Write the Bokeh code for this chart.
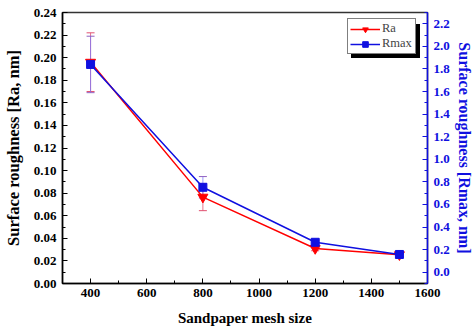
from bokeh.plotting import figure
from bokeh.models import (Range1d, LinearAxis, FixedTicker, NumeralTickFormatter,
                          ColumnDataSource, Whisker, Legend, LegendItem)
from bokeh.embed import file_html
from bokeh.resources import INLINE

mesh = [400, 800, 1200, 1500]
ra = [0.196, 0.0765, 0.031, 0.0255]
ra_err = [0.026, 0.012, 0.002, 0.002]
rmax = [1.84, 0.752, 0.265, 0.157]
rmax_err = [0.25, 0.095, 0.02, 0.02]

x_ticks = [400, 600, 800, 1000, 1200, 1400, 1600]
x_minor = [300, 500, 700, 900, 1100, 1300, 1500]
ra_ticks = [0.00, 0.02, 0.04, 0.06, 0.08, 0.10, 0.12, 0.14, 0.16, 0.18, 0.20, 0.22, 0.24]
ra_minor = [0.01, 0.03, 0.05, 0.07, 0.09, 0.11, 0.13, 0.15, 0.17, 0.19, 0.21, 0.23]
rmax_ticks = [0.0, 0.2, 0.4, 0.6, 0.8, 1.0, 1.2, 1.4, 1.6, 1.8, 2.0, 2.2]
rmax_minor = [-0.1, 0.1, 0.3, 0.5, 0.7, 0.9, 1.1, 1.3, 1.5, 1.7, 1.9, 2.1, 2.3]

FONT = "Liberation Serif"
BLUE = "#1010e0"
RED = "#ff0000"

p = figure(width=475, height=330, output_backend="svg", toolbar_location=None,
           x_range=Range1d(300, 1600), y_range=Range1d(0, 0.24),
           min_border_left=62, min_border_right=45, min_border_top=12, min_border_bottom=47)
p.extra_y_ranges = {"rmax": Range1d(-0.1, 2.3)}
p.grid.visible = False
p.outline_line_color = "#333333"
p.outline_line_width = 1.5

src = ColumnDataSource(dict(x=mesh, ra=ra, rmax=rmax,
                            ra_lo=[a - b for a, b in zip(ra, ra_err)],
                            ra_hi=[a + b for a, b in zip(ra, ra_err)],
                            rm_lo=[a - b for a, b in zip(rmax, rmax_err)],
                            rm_hi=[a + b for a, b in zip(rmax, rmax_err)]))

w1 = Whisker(base="x", lower="ra_lo", upper="ra_hi", source=src, line_color="#e05070",
             line_alpha=0.8, line_width=1)
w1.upper_head.line_color = "#e05070"; w1.lower_head.line_color = "#e05070"
w1.upper_head.size = 8; w1.lower_head.size = 8
w2 = Whisker(base="x", lower="rm_lo", upper="rm_hi", source=src, line_color="#7070ff",
             line_alpha=0.7, line_width=1, y_range_name="rmax")
w2.upper_head.line_color = "#9060c0"; w2.lower_head.line_color = "#9060c0"
w2.upper_head.size = 8; w2.lower_head.size = 8
p.add_layout(w1)
p.add_layout(w2)

l1 = p.line("x", "ra", source=src, line_color=RED, line_width=1.5)
m1 = p.scatter("x", "ra", source=src, marker="inverted_triangle", size=10,
               fill_color=RED, line_color=RED)
l2 = p.line("x", "rmax", source=src, line_color=BLUE, line_width=1.5, y_range_name="rmax")
m2 = p.scatter("x", "rmax", source=src, marker="square", size=8,
               fill_color=BLUE, line_color=BLUE, y_range_name="rmax")

# axes
xa = p.xaxis[0]
xa.ticker = FixedTicker(ticks=x_ticks, minor_ticks=x_minor)
xa.formatter = NumeralTickFormatter(format="0")
xa.axis_label = "Sandpaper mesh size"

ya = p.yaxis[0]
ya.ticker = FixedTicker(ticks=ra_ticks, minor_ticks=ra_minor)
ya.formatter = NumeralTickFormatter(format="0.00")
ya.axis_label = "Surface roughness [Ra, nm]"

ra_ax = LinearAxis(y_range_name="rmax", axis_label="Surface roughness [Rmax, nm]")
ra_ax.ticker = FixedTicker(ticks=rmax_ticks, minor_ticks=rmax_minor)
ra_ax.formatter = NumeralTickFormatter(format="0.0")
p.add_layout(ra_ax, "right")

for ax, col in ((xa, "black"), (ya, "black"), (ra_ax, BLUE)):
    ax.axis_line_color = col
    ax.axis_line_width = 1.5
    ax.major_tick_line_color = col
    ax.minor_tick_line_color = col
    ax.major_tick_in = 5
    ax.major_tick_out = 0
    ax.minor_tick_in = 3
    ax.minor_tick_out = 0
    ax.major_label_text_font = FONT
    ax.major_label_text_font_style = "bold"
    ax.major_label_text_font_size = "13px"
    ax.major_label_text_color = col
    ax.axis_label_text_font = FONT
    ax.axis_label_text_font_style = "bold"
    ax.axis_label_text_color = col
xa.axis_label_text_font_size = "15px"
ya.axis_label_text_font_size = "16.5px"
ra_ax.axis_label_text_font_size = "16px"
xa.major_label_standoff = 5
xa.axis_label_standoff = 10
ya.major_label_standoff = 6
ya.axis_label_standoff = 8
ra_ax.major_label_standoff = 6
ra_ax.axis_label_standoff = 3

common = dict(label_text_font=FONT, label_text_font_size="12.5px",
              border_line_width=1, background_fill_alpha=1,
              glyph_width=30, glyph_height=14, label_height=14, label_width=31,
              spacing=0, padding=2, margin=0, label_standoff=2)

# black drop shadow behind the legend (no texts of its own)
shadow = Legend(items=[LegendItem(label="", renderers=[l1]),
                       LegendItem(label="", renderers=[l2])],
                location=(289, 225), border_line_color="black",
                background_fill_color="black", **common)
legend = Legend(items=[LegendItem(label="Ra", renderers=[l1, m1]),
                       LegendItem(label="Rmax", renderers=[l2, m2])],
                location=(285, 229), border_line_color="black",
                background_fill_color="white", **common)
p.add_layout(shadow, "center")
p.add_layout(legend, "center")

open("out.html", "w").write(file_html(p, INLINE))
